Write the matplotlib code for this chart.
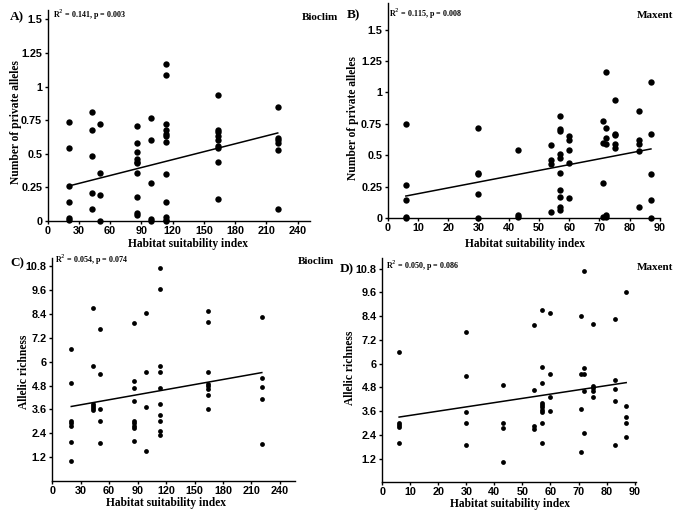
import matplotlib
matplotlib.use("Agg")
import matplotlib.pyplot as plt

W, H = 683, 516

# Bioclim habitat suitability groups and values per population
bio_x = [20, 43, 50, 86, 99, 114, 164, 221]
pa_bio = [
    [0.74, 0.54, 0.26, 0.14, 0.02, 0.005],
    [0.81, 0.68, 0.48, 0.21, 0.09],
    [0.72, 0.36, 0.19, 0.0],
    [0.71, 0.58, 0.51, 0.46, 0.44, 0.43, 0.36, 0.18, 0.06, 0.045],
    [0.77, 0.60, 0.28, 0.015, 0.0],
    [1.17, 1.085, 0.72, 0.68, 0.65, 0.63, 0.59, 0.35, 0.14, 0.03, 0.01, 0.0],
    [0.94, 0.68, 0.66, 0.63, 0.60, 0.56, 0.54, 0.44, 0.16],
    [0.85, 0.62, 0.60, 0.58, 0.53, 0.09],
]
ar_bio = [
    [6.62, 4.94, 3.02, 2.90, 2.77, 1.98, 1.01],
    [8.71, 5.8, 3.89, 3.79, 3.69, 3.59],
    [7.62, 5.36, 3.61, 3.0, 1.92],
    [7.94, 5.02, 4.66, 4.01, 3.02, 2.92, 2.78, 2.65, 2.02],
    [8.42, 5.49, 3.72, 1.53],
    [10.68, 9.64, 5.8, 5.48, 4.66, 3.89, 3.34, 3.0, 2.5, 2.3],
    [8.56, 8.0, 5.49, 4.88, 4.76, 4.64, 4.33, 3.62],
    [8.26, 5.16, 4.73, 4.14, 1.88],
]

# Maxent habitat suitability groups
max_x = [6, 30, 43, 54, 57, 60, 71, 72, 75, 83, 87]
pa_max = [
    [0.75, 0.26, 0.14, 0.01, 0.0],
    [0.72, 0.36, 0.35, 0.19, 0.0],
    [0.54, 0.02, 0.01],
    [0.58, 0.46, 0.43, 0.05],
    [0.81, 0.71, 0.69, 0.51, 0.48, 0.36, 0.22, 0.17, 0.09, 0.06],
    [0.65, 0.62, 0.54, 0.44, 0.16],
    [0.77, 0.60, 0.28, 0.01],
    [1.16, 0.72, 0.64, 0.59, 0.02, 0.01],
    [0.94, 0.67, 0.66, 0.59, 0.56],
    [0.85, 0.62, 0.59, 0.53, 0.09],
    [1.085, 0.67, 0.35, 0.14, 0.0],
]
ar_max = [
    [6.6, 3.0, 2.9, 2.78, 1.98],
    [7.61, 5.36, 3.57, 3.0, 1.9],
    [4.94, 3.02, 2.77, 1.02],
    [7.93, 4.65, 2.85, 2.71],
    [8.7, 5.81, 5.0, 4.03, 3.91, 3.79, 3.67, 3.56, 3.01, 2.0],
    [8.56, 5.48, 4.33, 3.62],
    [8.42, 5.48, 3.72, 1.52],
    [10.68, 5.79, 5.48, 4.63, 2.49],
    [8.0, 4.88, 4.77, 4.64, 4.3],
    [8.25, 5.17, 4.7, 4.13, 1.87],
    [9.63, 3.87, 3.32, 3.0, 2.29],
]

# regression line end values (at first and last x group)
fit_pa_bio = [0.26, 0.655]
fit_pa_max = [0.175, 0.55]
fit_ar_bio = [3.75, 5.45]
fit_ar_max = [3.3, 5.04]

pa_ticks = [0, 0.25, 0.5, 0.75, 1, 1.25, 1.5]
pa_labels = ["0", "0.25", "0.5", "0.75", "1", "1.25", "1.5"]
ar_ticks = [1.2, 2.4, 3.6, 4.8, 6, 7.2, 8.4, 9.6, 10.8]
ar_labels = ["1.2", "2.4", "3.6", "4.8", "6", "7.2", "8.4", "9.6", "10.8"]
bio_ticks = list(range(0, 241, 30))
max_ticks = list(range(0, 91, 10))

panels = [
    dict(letter="A)", xs=bio_x, ys=pa_bio, fit=fit_pa_bio, box=(47.7, 10, 310, 221),
         xlim=(0, 252), ylim=(0, 1.57), xt=bio_ticks, yt=pa_ticks, yl=pa_labels,
         ylab="Number of private alleles", ms=21, stats="R$^2$ = 0.141, p = 0.003",
         model="Bioclim", lp=(10, 17), sp=(53, 15), mp=(302, 17), xlp=(188, 244.5), ylp=(15.7, 122)),
    dict(letter="B)", xs=max_x, ys=pa_max, fit=fit_pa_max, box=(387.7, 3.3, 660, 218),
         xlim=(0, 90), ylim=(0, 1.71), xt=max_ticks, yt=pa_ticks, yl=pa_labels,
         ylab="Number of private alleles", ms=21, stats="R$^2$ = 0.115, p = 0.008",
         model="Maxent", lp=(347, 15), sp=(389, 14), mp=(637, 16), xlp=(525, 243.5), ylp=(353, 118)),
    dict(letter="C)", xs=bio_x, ys=ar_bio, fit=fit_ar_bio, box=(52.3, 258, 295, 481.2),
         xlim=(0, 256), ylim=(0, 11.2), xt=bio_ticks, yt=ar_ticks, yl=ar_labels,
         ylab="Allelic richness", ms=12, stats="R$^2$ = 0.054, p = 0.074",
         model="Bioclim", lp=(10, 263), sp=(55, 260), mp=(298, 262), xlp=(166, 503.5), ylp=(24.5, 372)),
    dict(letter="D)", xs=max_x, ys=ar_max, fit=fit_ar_max, box=(382.3, 257.7, 636, 482.4),
         xlim=(0, 90.5), ylim=(0, 11.35), xt=max_ticks, yt=ar_ticks, yl=ar_labels,
         ylab="Allelic richness", ms=12, stats="R$^2$ = 0.050, p = 0.086",
         model="Maxent", lp=(340, 269), sp=(386, 266), mp=(637, 268), xlp=(510, 503.5), ylp=(350, 368)),
]

serif = "Liberation Serif"
sans = "Liberation Sans"

fig = plt.figure(figsize=(W / 100, H / 100), dpi=100)
fig.patch.set_facecolor("white")

for p in panels:
    l, t, r, b = p["box"]
    ax = fig.add_axes([l / W, 1 - b / H, (r - l) / W, (b - t) / H])
    xs = [x for x, g in zip(p["xs"], p["ys"]) for _ in g]
    ys = [y for g in p["ys"] for y in g]
    ax.scatter(xs, ys, s=p["ms"], color="black", marker="o", linewidths=0, clip_on=False, zorder=3)
    ax.plot([p["xs"][0], p["xs"][-1]], p["fit"], color="black", linewidth=1.1, zorder=2)

    ax.set_xlim(*p["xlim"])
    ax.set_ylim(*p["ylim"])
    ax.set_xticks(p["xt"])
    ax.set_yticks(p["yt"])
    ax.set_yticklabels(p["yl"])
    for s in ["top", "right"]:
        ax.spines[s].set_visible(False)
    for s in ["left", "bottom"]:
        ax.spines[s].set_linewidth(1.0)
    ax.tick_params(direction="out", length=2.5, width=1.0, pad=1.5, labelsize=7.8)
    ax.tick_params(axis="x", pad=1.0)
    for lab in ax.get_xticklabels() + ax.get_yticklabels():
        lab.set_fontfamily(sans)
        lab.set_fontweight("bold")

    def frac(px, py):
        return (px - l) / (r - l), (b - py) / (b - t)

    ax.set_xlabel("Habitat suitability index", fontfamily=serif, fontweight="bold", fontsize=8.3, va="center")
    ax.xaxis.set_label_coords(*frac(*p["xlp"]))
    ax.set_ylabel(p["ylab"], fontfamily=serif, fontweight="bold", fontsize=8.3, va="center")
    ax.yaxis.set_label_coords(*frac(*p["ylp"]))

    fig.text(p["lp"][0] / W, 1 - p["lp"][1] / H, p["letter"], fontfamily=serif, fontweight="bold",
             fontsize=9.5, ha="left", va="center")
    fig.text(p["sp"][0] / W, 1 - p["sp"][1] / H, p["stats"], fontfamily=serif, fontweight="bold",
             fontsize=5.8, ha="left", va="center")
    fig.text(p["mp"][0] / W, 1 - p["mp"][1] / H, p["model"], fontfamily=serif, fontweight="bold",
             fontsize=8, ha="left", va="center")

fig.savefig("out.png", dpi=100)
